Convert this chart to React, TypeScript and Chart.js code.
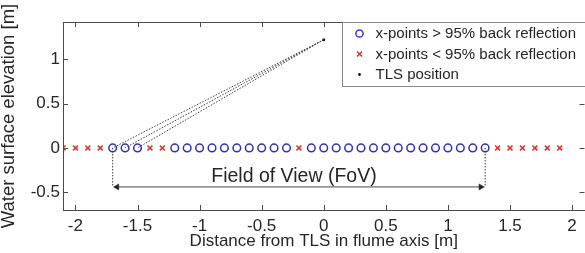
import React, { useEffect, useRef } from 'react';
import { Chart, registerables } from 'chart.js';

Chart.register(...registerables);

// ---- data ----
const xTickValues = [-2, -1.5, -1, -0.5, 0, 0.5, 1, 1.5, 2];
const yTickValues = [-0.5, 0, 0.5, 1];
const xMin = -2.1;
const xMax = 2.1;
const yMin = -0.7;
const yMax = 1.42;

const goodX = [-1.7, -1.6, -1.5, -1.2, -1.1, -1.0, -0.9, -0.8, -0.7, -0.6, -0.5, -0.4, -0.3,
  -0.1, 0, 0.1, 0.2, 0.3, 0.4, 0.5, 0.6, 0.7, 0.8, 0.9, 1.0, 1.1, 1.2, 1.3];
const goodY = [0, 0, 0, 0, 0, 0, 0, 0, 0, 0, 0, 0, 0, 0, 0, 0, 0, 0, 0, 0, 0, 0, 0, 0, 0, 0, 0, 0];
const badX = [-2.1, -2.0, -1.9, -1.8, -1.4, -1.3, -0.2, 1.4, 1.5, 1.6, 1.7, 1.8, 1.9];
const badY = [0, 0, 0, 0, 0, 0, 0, 0, 0, 0, 0, 0, 0];
const tlsX = [0];
const tlsY = [1.22];
const sightEndX = [-1.7, -1.6, -1.5];
const sightEndY = [0, 0, 0];
const fovStartX = -1.7;
const fovEndX = 1.3;
const fovArrowY = -0.44;
const fovArrowX = [-1.665, 1.265];
const fovLabel = 'Field of View (FoV)';
const fovLabelX = -0.24;
const fovLabelY = -0.325;

const legendLabels = ['x-points > 95% back reflection', 'x-points < 95% back reflection', 'TLS position'];
const xTitle = 'Distance from TLS in flume axis [m]';
const yTitle = 'Water surface elevation [m]';

const FONT = "Arial, 'Liberation Sans', sans-serif";
const BLUE = '#3030b8';
const LEG_BLUE = '#3434e0';
const RED = '#e0302e';
const TEXT = '#262626';
const AXIS = '#4a4a4a';
const DOT = '#3a3a3a';

const zip = (xs: number[], ys: number[]) => xs.map((x, i) => ({ x, y: ys[i] }));

const framePlugin = {
  id: 'frameTicks',
  afterDatasetsDraw(chart: any) {
    const { ctx, chartArea: a, scales } = chart;
    const xs = scales.x;
    const ys = scales.y;
    ctx.save();
    ctx.fillStyle = TEXT;
    ctx.font = `19.5px ${FONT}`;
    ctx.textAlign = 'center';
    ctx.textBaseline = 'middle';
    ctx.fillText(fovLabel, xs.getPixelForValue(fovLabelX), ys.getPixelForValue(fovLabelY));
    ctx.strokeStyle = AXIS;
    ctx.lineWidth = 1;
    ctx.strokeRect(Math.round(a.left) + 0.5, Math.round(a.top) + 0.5,
      Math.round(a.right - a.left), Math.round(a.bottom - a.top));
    const tl = 5;
    ctx.beginPath();
    xTickValues.forEach((v) => {
      const px = Math.round(xs.getPixelForValue(v)) + 0.5;
      ctx.moveTo(px, a.bottom);
      ctx.lineTo(px, a.bottom - tl);
      ctx.moveTo(px, a.top);
      ctx.lineTo(px, a.top + tl);
    });
    yTickValues.forEach((v) => {
      const py = Math.round(ys.getPixelForValue(v)) + 0.5;
      ctx.moveTo(a.left, py);
      ctx.lineTo(a.left + tl, py);
      ctx.moveTo(a.right, py);
      ctx.lineTo(a.right - tl, py);
    });
    ctx.stroke();
    ctx.restore();
  },
  afterDraw(chart: any) {
    const { ctx, chartArea: a } = chart;
    ctx.save();
    const left = Math.round(a.right - 243) + 0.5;
    const top = Math.round(a.top) + 0.5;
    ctx.fillStyle = '#ffffff';
    ctx.fillRect(left, top, 260, 64);
    ctx.strokeStyle = '#8a8a8a';
    ctx.lineWidth = 1;
    ctx.strokeRect(left, top, 260, 64);
    const rows = [top + 11, top + 31.5, top + 52];
    const mx = left + 17;
    ctx.strokeStyle = LEG_BLUE;
    ctx.lineWidth = 1.5;
    ctx.beginPath();
    ctx.arc(mx, rows[0], 3.6, 0, Math.PI * 2);
    ctx.stroke();
    ctx.strokeStyle = RED;
    ctx.lineWidth = 1.5;
    ctx.beginPath();
    ctx.moveTo(mx - 2.5, rows[1] - 2.5);
    ctx.lineTo(mx + 2.5, rows[1] + 2.5);
    ctx.moveTo(mx + 2.5, rows[1] - 2.5);
    ctx.lineTo(mx - 2.5, rows[1] + 2.5);
    ctx.stroke();
    ctx.fillStyle = '#111';
    ctx.beginPath();
    ctx.arc(mx, rows[2], 1.4, 0, Math.PI * 2);
    ctx.fill();
    ctx.fillStyle = TEXT;
    ctx.font = `15px ${FONT}`;
    ctx.textAlign = 'left';
    ctx.textBaseline = 'middle';
    legendLabels.forEach((t, i) => ctx.fillText(t, left + 33, rows[i] + 0.5));
    ctx.restore();
  },
};

export default function App() {
  const ref = useRef<HTMLCanvasElement | null>(null);
  useEffect(() => {
    if (!ref.current) return;
    const dotted = { borderColor: DOT, borderWidth: 1, borderDash: [1.5, 1.5], pointRadius: 0, showLine: true, fill: false };
    const sightSets = sightEndX.map((ex, i) => ({
      label: 'sight' + i,
      data: [{ x: tlsX[0], y: tlsY[0] }, { x: ex, y: sightEndY[i] }],
      ...dotted,
    }));
    const chart = new Chart(ref.current, {
      type: 'scatter',
      data: {
        datasets: [
          ...sightSets,
          { label: 'fovL', data: [{ x: fovStartX, y: 0 }, { x: fovStartX, y: fovArrowY }], ...dotted },
          { label: 'fovR', data: [{ x: fovEndX, y: 0 }, { x: fovEndX, y: fovArrowY }], ...dotted },
          {
            label: 'arrow',
            data: zip(fovArrowX, [fovArrowY, fovArrowY]),
            showLine: true,
            borderColor: '#444',
            borderWidth: 1,
            pointStyle: 'triangle',
            pointRotation: [270, 90],
            pointRadius: 3.5,
            pointBackgroundColor: '#222',
            pointBorderColor: '#222',
            pointBorderWidth: 0.5,
          },
          {
            label: legendLabels[0],
            data: zip(goodX, goodY),
            pointStyle: 'circle',
            pointRadius: 3.8,
            pointBorderWidth: 1.5,
            pointBorderColor: BLUE,
            pointBackgroundColor: 'rgba(0,0,0,0)',
            showLine: false,
          },
          {
            label: legendLabels[1],
            data: zip(badX, badY),
            pointStyle: 'crossRot',
            pointRadius: 3.5,
            pointBorderWidth: 1.5,
            pointBorderColor: RED,
            showLine: false,
          },
          {
            label: legendLabels[2],
            data: zip(tlsX, tlsY),
            pointStyle: 'circle',
            pointRadius: 1.5,
            pointBorderWidth: 0,
            pointBackgroundColor: '#111',
            showLine: false,
          },
        ],
      },
      options: {
        responsive: false,
        animation: false,
        events: [],
        layout: { padding: { left: 0, top: 22, right: 4, bottom: 0 } },
        plugins: { legend: { display: false }, tooltip: { enabled: false } },
        scales: {
          x: {
            type: 'linear',
            min: xMin,
            max: xMax,
            afterFit: (s: any) => { s.height = 43; },
            afterBuildTicks: (s: any) => { s.ticks = xTickValues.map((v) => ({ value: v })); },
            grid: { display: false, drawTicks: false },
            border: { display: false },
            ticks: {
              padding: 6,
              color: TEXT,
              font: { family: FONT, size: 17 },
              maxRotation: 0,
              autoSkip: false,
              callback: (v: any) => String(v),
            },
            title: {
              display: true,
              text: xTitle,
              color: TEXT,
              font: { family: FONT, size: 17 },
              padding: { top: 0, bottom: 1 },
            },
          },
          y: {
            type: 'linear',
            min: yMin,
            max: yMax,
            afterFit: (s: any) => { s.width = 63; },
            afterBuildTicks: (s: any) => { s.ticks = yTickValues.map((v) => ({ value: v })); },
            grid: { display: false, drawTicks: false },
            border: { display: false },
            ticks: {
              padding: 3,
              color: TEXT,
              font: { family: FONT, size: 17 },
              autoSkip: false,
              callback: (v: any) => String(v),
            },
            title: {
              display: true,
              text: yTitle,
              color: TEXT,
              font: { family: FONT, size: 18.5, lineHeight: 0.92 },
              padding: { top: 0, bottom: 0 },
            },
          },
        },
      },
      plugins: [framePlugin],
    } as any);
    return () => chart.destroy();
  }, []);
  return (
    <div style={{ position: 'fixed', left: 0, top: 0, width: 585, height: 253, overflow: 'hidden', background: '#fff' }}>
      <canvas ref={ref} width={590} height={253} style={{ display: 'block' }} />
    </div>
  );
}
